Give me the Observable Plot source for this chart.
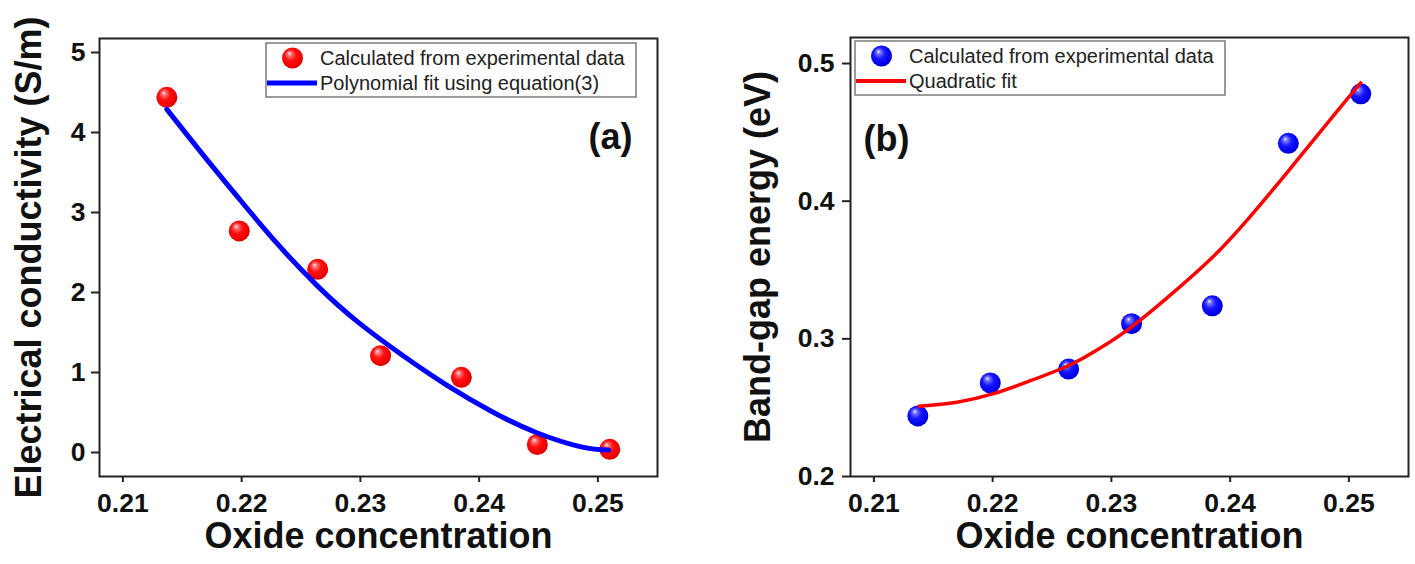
<!DOCTYPE html>
<html><head><meta charset="utf-8">
<script src="https://cdn.jsdelivr.net/npm/d3@7"></script>
<script src="https://cdn.jsdelivr.net/npm/@observablehq/plot@0.6"></script>
<style>
body{margin:0;background:#fff;}
#wrap{display:flex;width:1415px;height:564px;background:#fff;}
</style></head><body><div id="wrap"></div>
<script>
// ---- data ----
const oxide = [0.2137, 0.2198, 0.2264, 0.2317, 0.2385, 0.2449, 0.2510];
const conductivity = [4.44, 2.77, 2.29, 1.21, 0.94, 0.10, 0.04];
const bandGap = [0.244, 0.268, 0.278, 0.311, 0.324, 0.442, 0.478];

// fitted curves
const fitAx = [0.2137, 0.2167, 0.2198, 0.2230, 0.2264, 0.2298, 0.2336, 0.2373, 0.2411, 0.2448, 0.2486, 0.2509];
const fitAy = [4.29, 3.73, 3.17, 2.61, 2.08, 1.63, 1.21, 0.84, 0.51, 0.25, 0.07, 0.03];
const fitBx = [0.2138, 0.2170, 0.2200, 0.2230, 0.2265, 0.2292, 0.2319, 0.2354, 0.2386, 0.2415, 0.2450, 0.2485, 0.2510];
const fitBy = [0.251, 0.254, 0.260, 0.269, 0.281, 0.294, 0.310, 0.335, 0.360, 0.387, 0.423, 0.460, 0.486];

const xTicks = [0.21, 0.22, 0.23, 0.24, 0.25];
const yTicksA = [0, 1, 2, 3, 4, 5];
const yTicksB = [0.2, 0.3, 0.4, 0.5];
const panelLabels = ["(a)", "(b)"];
const yTitles = ["Electrical conductivity (S/m)", "Band-gap energy (eV)"];
const xTitle = "Oxide concentration";
const legendA = ["Calculated from experimental data", "Polynomial fit using equation(3)"];
const legendB = ["Calculated from experimental data", "Quadratic fit"];

const font = "'Liberation Sans', Arial, Helvetica, sans-serif";
const ink = "#111";

function gradientDefs(svg) {
  const defs = d3.select(svg).insert("defs", ":first-child");
  const mk = (id, light, mid, base, dark) => {
    const g = defs.append("radialGradient").attr("id", id)
      .attr("cx", "0.45").attr("cy", "0.45").attr("r", "0.6")
      .attr("fx", "0.35").attr("fy", "0.28");
    g.append("stop").attr("offset", "0%").attr("stop-color", "#ffffff");
    g.append("stop").attr("offset", "14%").attr("stop-color", light);
    g.append("stop").attr("offset", "45%").attr("stop-color", mid);
    g.append("stop").attr("offset", "80%").attr("stop-color", base);
    g.append("stop").attr("offset", "100%").attr("stop-color", dark);
  };
  mk("sphereRed", "#ff8080", "#ff1010", "#f00000", "#c00000");
  mk("sphereBlue", "#8080ff", "#1818ff", "#0000f0", "#0000b0");
}

function legend(svg, box, labels, dotFill, lineColor, lineWidth) {
  const g = d3.select(svg).append("g");
  g.append("rect").attr("x", box.x).attr("y", box.y).attr("width", box.w).attr("height", box.h)
    .attr("fill", "white").attr("stroke", "#666").attr("stroke-width", 1.3);
  const r1 = box.y + 15, r2 = box.y + 40;
  g.append("circle").attr("cx", box.x + 26.5).attr("cy", r1).attr("r", 10.5).attr("fill", dotFill);
  g.append("line").attr("x1", box.x + 1).attr("x2", box.x + 51).attr("y1", r2).attr("y2", r2)
    .attr("stroke", lineColor).attr("stroke-width", lineWidth);
  [r1, r2].forEach((yy, i) => {
    g.append("text").attr("x", box.x + 54).attr("y", yy).attr("dy", "0.35em")
      .attr("text-anchor", "start")
      .attr("font-size", 20).attr("font-family", font).attr("fill", "#222").text(labels[i]);
  });
}

function panel(o) {
  const pts = oxide.map((x, i) => ({x, y: o.yv[i]}));
  const fit = o.fx.map((x, i) => ({x, y: o.fy[i]}));
  const svg = Plot.plot({
    width: o.width, height: 564,
    marginLeft: o.ml, marginRight: o.mr, marginTop: o.mt, marginBottom: 88,
    style: {fontFamily: font, background: "white", overflow: "visible"},
    x: {domain: [0.20803, 0.25502]},
    y: {domain: o.ydom},
    marks: [
      Plot.axisX(xTicks, {tickSize: 6, tickPadding: 11, strokeWidth: 2, stroke: "#222", fontSize: 26.5, fontWeight: "bold", fill: ink, tickFormat: d3.format(".2f"), label: null}),
      Plot.axisY(o.yt, {tickSize: 8, tickPadding: o.tp, strokeWidth: 2, stroke: "#222", fontSize: 26.5, fontWeight: "bold", fill: ink, tickFormat: o.fmt, label: null}),
      Plot.dot(pts, {x: "x", y: "y", r: 10.5, fill: o.dotFill}),
      Plot.line(fit, {x: "x", y: "y", stroke: o.lineColor, strokeWidth: o.lw, curve: "natural"}),
      Plot.frame({stroke: "#222", strokeWidth: 2}),
      Plot.text([o.ytitle], {text: d => d, frameAnchor: "left", textAnchor: "middle", rotate: -90, dx: o.tdx, fontSize: 36, fontWeight: "bold", fill: ink}),
      Plot.text([xTitle], {text: d => d, frameAnchor: "bottom", dy: 71, fontSize: 36, fontWeight: "bold", fill: ink}),
      Plot.text([o.label], {text: d => d, frameAnchor: o.la, textAnchor: o.ta, lineAnchor: "top", dx: o.ldx, dy: o.ldy, fontSize: 36, fontWeight: "bold", fill: ink})
    ]
  });
  gradientDefs(svg);
  legend(svg, o.box, o.legend, o.dotFill, o.lineColor, o.llw);
  return svg;
}

const wrap = document.getElementById("wrap");
wrap.appendChild(panel({
  width: 707, ml: 99, mr: 50, mt: 38,
  yv: conductivity, fx: fitAx, fy: fitAy, ydom: [-0.3, 5.175], yt: yTicksA, tp: 6,
  fmt: d3.format("d"), dotFill: "url(#sphereRed)", lineColor: "#0000ff", lw: 5, llw: 5,
  ytitle: yTitles[0], tdx: -70, label: panelLabels[0], la: "top-right", ta: "end", ldx: -25, ldy: 85,
  box: {x: 266, y: 43, w: 370, h: 54}, legend: legendA
}));
wrap.appendChild(panel({
  width: 708, ml: 143, mr: 7, mt: 37,
  yv: bandGap, fx: fitBx, fy: fitBy, ydom: [0.2, 0.5189], yt: yTicksB, tp: 8,
  fmt: d3.format(".1f"), dotFill: "url(#sphereBlue)", lineColor: "#ff0000", lw: 3.5, llw: 4,
  ytitle: yTitles[1], tdx: -92, label: panelLabels[1], la: "top-left", ta: "start", ldx: 13, ldy: 88,
  box: {x: 148, y: 41, w: 370, h: 54}, legend: legendB
}));
</script></body></html>
